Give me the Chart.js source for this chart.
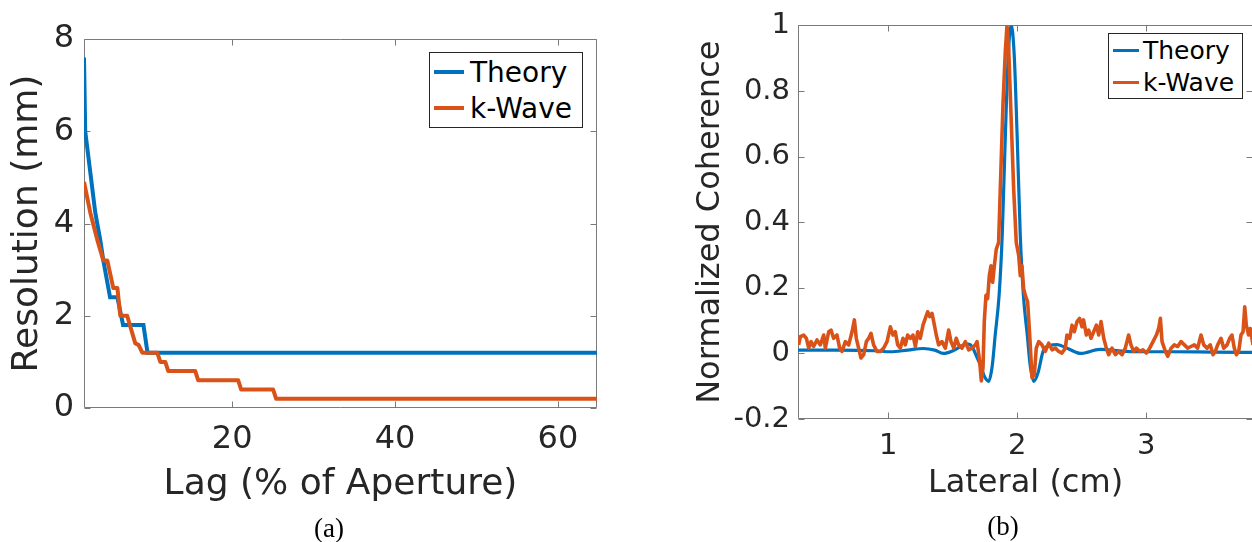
<!DOCTYPE html>
<html>
<head>
<meta charset="utf-8">
<title>Resolution and coherence</title>
<script src="https://cdn.jsdelivr.net/npm/chart.js@4.4.0/dist/chart.umd.min.js"></script>
<style>
  html, body { margin: 0; padding: 0; background: #fff; }
  body { width: 1252px; height: 542px; overflow: hidden; position: relative; font-family: "DejaVu Sans", sans-serif; }
  .panel { position: absolute; top: 0; }
  .legend { position: absolute; box-sizing: border-box; border: 1px solid #262626; background: #fff; color: #000; }
  .legend .row { display: flex; align-items: center; white-space: nowrap; }
  .legend .swatch { display: inline-block; flex: none; }
  .caption { position: absolute; font-family: "Liberation Serif", serif; font-size: 27px; text-align: center; color: #000; height: 30px; line-height: 30px; width: 80px; }
</style>
</head>
<body>
<canvas id="chart-a" class="panel" width="620" height="542" style="left:0;width:620px;height:542px"></canvas>
<canvas id="chart-b" class="panel" width="580" height="542" style="left:680px;width:580px;height:542px"></canvas>
<div id="legend-a" class="legend" style="left:429px;top:52px;width:154px;height:76px;font-size:28px;padding-top:1px"></div>
<div id="legend-b" class="legend" style="left:1108px;top:33px;width:135px;height:66px;font-size:25px;padding-top:0"></div>
<div class="caption" style="left:289px;top:513px">(a)</div>
<div class="caption" style="left:963px;top:511px">(b)</div>
<script>
// ---- panel (a): resolution vs lag ----
const lagTheory = [1.8, 1.95, 2.58, 3.19, 3.8, 4.17, 5.0, 5.9, 6.6, 9.1, 9.6, 64.8];
const resTheory = [7.6, 6.0, 5.1, 4.23, 3.64, 3.2, 2.4, 2.4, 1.8, 1.8, 1.2, 1.2];
const lagKWave = [1.8, 2.58, 3.44, 4.17, 4.66, 5.4, 5.9, 6.26, 7.1, 7.6, 8.1, 8.5, 8.96, 10.8, 11.17, 11.78, 12.15, 15.46, 15.83, 20.74, 21.1, 25.03, 25.4, 64.8];
const resKWave = [4.9, 4.23, 3.64, 3.2, 3.2, 2.6, 2.6, 2.0, 2.0, 1.7, 1.4, 1.37, 1.2, 1.2, 1.0, 1.0, 0.8, 0.8, 0.6, 0.6, 0.4, 0.4, 0.2, 0.2];
const lagTicks = [20, 40, 60];
const resTicks = [0, 2, 4, 6, 8];

// ---- panel (b): normalized coherence vs lateral position ----
const latTheory = [0.30, 0.60, 0.90, 1.016, 1.15, 1.271, 1.36, 1.426, 1.50, 1.581, 1.62, 1.651, 1.674, 1.713, 1.745, 1.778, 1.805, 1.829, 1.859, 1.883, 1.907, 1.930, 1.953, 1.976, 1.999, 2.023, 2.047, 2.077, 2.101, 2.128, 2.16, 2.20, 2.25, 2.31, 2.39, 2.49, 2.64, 2.90, 3.2, 3.5, 3.827];
const cohTheory = [0.01, 0.01, 0.008, 0.005, 0.01, 0.015, 0.01, 0.0, 0.008, 0.025, 0.028, 0.02, 0.0, -0.035, -0.07, -0.085, -0.04, 0.057, 0.178, 0.36, 0.66, 0.91, 1.0, 0.91, 0.66, 0.36, 0.178, 0.057, -0.04, -0.085, -0.06, 0.006, 0.024, 0.027, 0.015, 0.0, 0.012, 0.005, 0.005, 0.004, 0.003];
const latKWave = [0.305, 0.318, 0.344, 0.365, 0.383, 0.401, 0.421, 0.447, 0.473, 0.499, 0.512, 0.538, 0.556, 0.576, 0.602, 0.623, 0.641, 0.667, 0.693, 0.719,
  0.737, 0.752, 0.770, 0.788, 0.809, 0.830, 0.848, 0.866, 0.886, 0.912, 0.938, 0.964, 0.990, 1.016, 1.036, 1.054, 1.073, 1.093, 1.114, 1.132,
  1.150, 1.171, 1.191, 1.210, 1.228, 1.248, 1.269, 1.287, 1.305, 1.321, 1.339, 1.352, 1.372, 1.390, 1.416, 1.442, 1.468, 1.486, 1.507, 1.527,
  1.545, 1.571, 1.597, 1.623, 1.649, 1.675, 1.688, 1.708, 1.721, 1.734, 1.744, 1.757, 1.770, 1.783, 1.796, 1.809, 1.822, 1.837, 1.855, 1.868,
  1.889, 1.907, 1.920, 1.933, 1.951, 1.972, 1.992, 2.011, 2.023, 2.036, 2.049, 2.062, 2.080, 2.096, 2.114, 2.132, 2.147, 2.166, 2.191, 2.217,
  2.243, 2.269, 2.295, 2.321, 2.346, 2.372, 2.385, 2.406, 2.424, 2.442, 2.463, 2.483, 2.501, 2.514, 2.535, 2.553, 2.571, 2.592, 2.613, 2.631,
  2.649, 2.670, 2.690, 2.708, 2.734, 2.760, 2.786, 2.812, 2.837, 2.863, 2.881, 2.902, 2.923, 2.949, 2.974, 3.000, 3.026, 3.052, 3.078, 3.096,
  3.109, 3.122, 3.148, 3.166, 3.192, 3.217, 3.243, 3.269, 3.295, 3.321, 3.346, 3.372, 3.398, 3.424, 3.445, 3.471, 3.496, 3.517, 3.535, 3.553,
  3.579, 3.600, 3.626, 3.646, 3.664, 3.682, 3.698, 3.716, 3.734, 3.750, 3.763, 3.775, 3.793, 3.806, 3.827];
const cohKWave = [0.026, 0.051, 0.056, 0.046, 0.016, 0.036, 0.021, 0.041, 0.026, 0.056, 0.016, 0.066, 0.071, 0.046, 0.056, 0.016, 0.006, 0.036, 0.026, 0.066,
  0.102, 0.046, 0.016, -0.014, -0.004, 0.036, 0.046, 0.061, 0.026, 0.006, 0.006, 0.016, 0.036, 0.081, 0.056, 0.066, 0.026, 0.016, 0.046, 0.026,
  0.056, 0.046, 0.056, 0.021, 0.066, 0.046, 0.086, 0.107, 0.127, 0.112, 0.122, 0.097, 0.056, 0.026, 0.036, 0.016, 0.071, 0.036, 0.016, 0.046,
  0.026, 0.016, 0.036, 0.011, 0.016, 0.026, 0.036, -0.024, -0.084, -0.044, 0.097, 0.177, 0.167, 0.237, 0.267, 0.217, 0.267, 0.318, 0.338, 0.499,
  0.760, 0.921, 1.0, 0.931, 0.730, 0.499, 0.338, 0.298, 0.237, 0.267, 0.197, 0.177, 0.157, 0.056, -0.074, -0.064, 0.016, 0.036, 0.026, 0.006,
  0.031, 0.011, 0.016, 0.006, 0.001, 0.016, 0.056, 0.046, 0.086, 0.066, 0.097, 0.107, 0.081, 0.102, 0.056, 0.071, 0.046, 0.066, 0.086, 0.056,
  0.097, 0.046, 0.016, -0.004, 0.016, -0.004, 0.006, -0.004, 0.016, 0.056, 0.026, 0.006, 0.016, 0.006, 0.011, 0.001, 0.016, 0.036, 0.056, 0.076,
  0.107, 0.036, 0.006, -0.009, 0.016, 0.026, 0.021, 0.036, 0.026, 0.016, 0.021, 0.026, 0.016, 0.056, 0.026, 0.016, 0.026, -0.004, 0.006, 0.026,
  0.046, 0.016, 0.026, 0.046, 0.056, 0.016, -0.004, 0.006, 0.056, 0.066, 0.142, 0.086, 0.056, 0.076, 0.026];
const latTicks = [1, 2, 3];
const cohTicks = [-0.2, 0, 0.2, 0.4, 0.6, 0.8, 1];

const BLUE = '#0072BD';
const ORANGE = '#D95319';
const TEXT_GREY = '#262626';
const FONT = '"DejaVu Sans", sans-serif';

function toPoints(xs, ys) {
    return xs.map((x, i) => ({ x: x, y: ys[i] }));
}

function fmtTick(v) {
    return Number.isInteger(v) ? String(v) : v.toFixed(1);
}

// MATLAB style box with inward ticks on all four sides
const boxTicksPlugin = {
    id: 'boxTicks',
    beforeDatasetsDraw(chart, args, opts) {
        const { ctx, chartArea: a, scales } = chart;
        const len = opts.length || 6;
        const l = Math.round(a.left) + 0.5, r = Math.round(a.right) - 0.5;
        const t = Math.round(a.top) + 0.5, b = Math.round(a.bottom) - 0.5;
        ctx.save();
        ctx.strokeStyle = opts.color || '#777';
        ctx.lineWidth = 1;
        ctx.beginPath();
        ctx.rect(l, t, r - l, b - t);
        scales.x.ticks.forEach(tk => {
            const px = Math.round(scales.x.getPixelForValue(tk.value)) + 0.5;
            ctx.moveTo(px, b); ctx.lineTo(px, b - len);
            ctx.moveTo(px, t); ctx.lineTo(px, t + len);
        });
        scales.y.ticks.forEach(tk => {
            const py = Math.round(scales.y.getPixelForValue(tk.value)) + 0.5;
            ctx.moveTo(l, py); ctx.lineTo(l + len, py);
            ctx.moveTo(r, py); ctx.lineTo(r - len, py);
        });
        ctx.stroke();
        ctx.restore();
    }
};

function makePanel(canvasId, cfg) {
    const ctx = document.getElementById(canvasId).getContext('2d');
    return new Chart(ctx, {
        type: 'line',
        data: {
            datasets: [{
                label: 'Theory',
                data: toPoints(cfg.theoryX, cfg.theoryY),
                borderColor: BLUE,
                borderWidth: cfg.lineWidth,
                pointRadius: 0,
                tension: 0,
                cubicInterpolationMode: cfg.smoothTheory ? 'monotone' : 'default',
                order: 1
            }, {
                label: 'k-Wave',
                data: toPoints(cfg.kwaveX, cfg.kwaveY),
                borderColor: ORANGE,
                borderWidth: cfg.kwaveWidth,
                pointRadius: 0,
                tension: 0,
                borderJoinStyle: 'round',
                order: 0
            }]
        },
        options: {
            responsive: false,
            animation: false,
            events: [],
            layout: { padding: cfg.padding },
            plugins: {
                legend: { display: false },
                tooltip: { enabled: false },
                boxTicks: { length: 6, color: '#7a7a7a' }
            },
            scales: {
                x: {
                    type: 'linear',
                    min: cfg.xMin,
                    max: cfg.xMax,
                    grid: { display: false, drawTicks: false },
                    border: { display: false },
                    afterBuildTicks: s => { s.ticks = cfg.xTicks.map(v => ({ value: v })); },
                    afterFit: s => { s.height = cfg.xHeight; },
                    ticks: {
                        autoSkip: false, maxRotation: 0,
                        padding: cfg.xTickPad,
                        color: TEXT_GREY,
                        font: { family: FONT, size: cfg.tickSize },
                        callback: v => fmtTick(v)
                    },
                    title: {
                        display: true, text: cfg.xTitle, color: TEXT_GREY,
                        font: { family: FONT, size: cfg.titleSize },
                        padding: { top: 0, bottom: cfg.xTitlePad }
                    }
                },
                y: {
                    type: 'linear',
                    min: cfg.yMin,
                    max: cfg.yMax,
                    grid: { display: false, drawTicks: false },
                    border: { display: false },
                    afterBuildTicks: s => { s.ticks = cfg.yTicks.map(v => ({ value: v })); },
                    afterFit: s => { s.width = cfg.yWidth; },
                    ticks: {
                        autoSkip: false,
                        padding: cfg.yTickPad,
                        color: TEXT_GREY,
                        font: { family: FONT, size: cfg.tickSize },
                        callback: v => fmtTick(v)
                    },
                    title: {
                        display: true, text: cfg.yTitle, color: TEXT_GREY,
                        font: { family: FONT, size: cfg.titleSize },
                        padding: { top: cfg.yTitlePad, bottom: 0 }
                    }
                }
            }
        },
        plugins: [boxTicksPlugin]
    });
}

// legend drawn as html from the chart's own datasets
function buildLegend(chart, el, rowH, swW, swH, gap) {
    chart.data.datasets.forEach(ds => {
        const row = document.createElement('div');
        row.className = 'row';
        row.style.height = rowH + 'px';
        const sw = document.createElement('span');
        sw.className = 'swatch';
        sw.style.width = swW + 'px';
        sw.style.height = swH + 'px';
        sw.style.marginLeft = '4px';
        sw.style.marginRight = gap + 'px';
        sw.style.background = ds.borderColor;
        const tx = document.createElement('span');
        tx.textContent = ds.label;
        row.append(sw, tx);
        el.append(row);
    });
}

const chartA = makePanel('chart-a', {
    theoryX: lagTheory, theoryY: resTheory, kwaveX: lagKWave, kwaveY: resKWave,
    xMin: 1.8, xMax: 64.8, xTicks: lagTicks,
    yMin: 0, yMax: 8, yTicks: resTicks,
    xTitle: 'Lag (% of Aperture)', yTitle: 'Resolution (mm)',
    padding: { top: 39, right: 23, left: 0, bottom: 0 },
    xHeight: 134, yWidth: 84,
    tickSize: 32, titleSize: 36,
    xTickPad: 12, yTickPad: 10, xTitlePad: 36, yTitlePad: 6,
    lineWidth: 4, kwaveWidth: 4, smoothTheory: false
});

const chartB = makePanel('chart-b', {
    theoryX: latTheory, theoryY: cohTheory, kwaveX: latKWave, kwaveY: cohKWave,
    xMin: 0.3, xMax: 3.827, xTicks: latTicks,
    yMin: -0.2, yMax: 1, yTicks: cohTicks,
    xTitle: 'Lateral (cm)', yTitle: 'Normalized Coherence',
    padding: { top: 21, right: 7, left: 0, bottom: 0 },
    xHeight: 123, yWidth: 118,
    tickSize: 29, titleSize: 32,
    xTickPad: 10, yTickPad: 8, xTitlePad: 39, yTitlePad: 11,
    lineWidth: 3.2, kwaveWidth: 3.6, smoothTheory: true
});

buildLegend(chartA, document.getElementById('legend-a'), 36, 30, 4, 6);
buildLegend(chartB, document.getElementById('legend-b'), 32, 26, 3, 4);
</script>
</body>
</html>
